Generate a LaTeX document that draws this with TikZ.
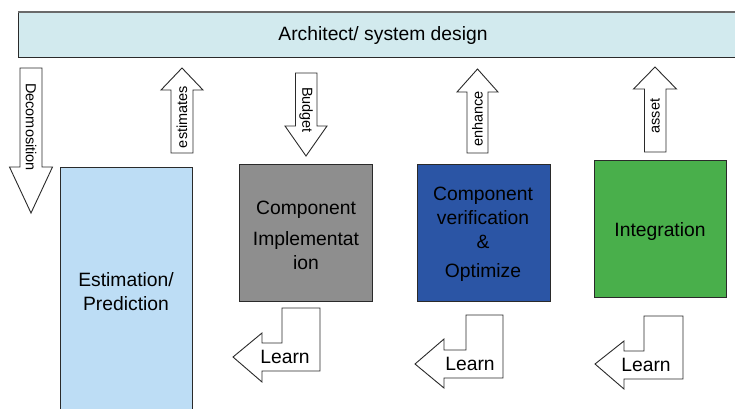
\documentclass[tikz,border=0pt]{standalone}
\usepackage{fontspec}
\setmainfont{Liberation Sans}
\definecolor{barfill}{HTML}{D2EAEE}
\definecolor{estfill}{HTML}{BDDDF5}
\definecolor{impfill}{HTML}{8E8E8E}
\definecolor{verfill}{HTML}{2B55A5}
\definecolor{intfill}{HTML}{49AF4B}
\definecolor{edge}{HTML}{2A2A2A}
\tikzset{
  box/.style={draw=edge, line width=1bp},
  blockarrow/.style={draw=edge, fill=white, line width=0.9bp, line join=miter},
  bigtext/.style={font=\fontsize{19.3bp}{24bp}\selectfont, align=center, inner sep=0pt},
  vlabel/.style={font=\fontsize{14.5bp}{17bp}\selectfont, inner sep=0pt},
}
\begin{document}
\begin{tikzpicture}[x=1bp,y=-1bp]
\useasboundingbox (0,0) rectangle (735,408);
% top bar
\draw[box, fill=barfill] (18,12) rectangle (745,57);
\draw[edge!70, line width=1.5bp] (18,12) -- (745,12);
\node[bigtext] (bar) at (383,36) {Architect/ system design};
% boxes
\draw[box, fill=estfill] (60,167) rectangle (192,420);
\node[bigtext] (est) at (126,292) {Estimation/\\Prediction};
\draw[box, fill=impfill] (239,164) rectangle (372,301);
\node[bigtext] (imp) at (306,235) {Component\\[7bp]Implementat\\ion};
\draw[box, fill=verfill] (417,164) rectangle (550,301);
\node[bigtext] (ver) at (483,234) {Component\\verification\\\&\\[5bp]Optimize};
\draw[box, fill=intfill] (594,160) rectangle (726,297);
\node[bigtext] (int) at (660,232) {Integration};
% down arrow: Decomosition
\draw[blockarrow] (20,68) -- (42,68) -- (42,167) -- (52.5,167) -- (31,213) -- (9.5,167) -- (20,167) -- cycle;
\node[vlabel, rotate=-90] (dec) at (31,127) {Decomosition};
% up arrow: estimates
\draw[blockarrow] (171,153) -- (193,153) -- (193,90) -- (203,90) -- (182,68) -- (161,90) -- (171,90) -- cycle;
\node[vlabel, rotate=90] (esta) at (182,117) {estimates};
% down arrow: Budget
\draw[blockarrow] (295.5,73) -- (317,73) -- (317,126) -- (327,126) -- (306,156) -- (285,126) -- (295.5,126) -- cycle;
\node[vlabel, rotate=-90] (bud) at (306,110) {Budget};
% up arrow: enhance
\draw[blockarrow] (467,153) -- (488,153) -- (488,92) -- (498,92) -- (477.5,69) -- (457,92) -- (467,92) -- cycle;
\node[vlabel, rotate=90] (enh) at (477.5,119) {enhance};
% up arrow: asset
\draw[blockarrow] (644.5,152) -- (666,152) -- (666,89) -- (676.5,89) -- (655,67) -- (633.5,89) -- (644.5,89) -- cycle;
\node[vlabel, rotate=90] (ass) at (655,116) {asset};
% Learn arrows
\draw[blockarrow] (320,308) -- (282,308) -- (282,343) -- (262,343) -- (262,333) -- (233,357) -- (262,382) -- (262,371) -- (320,371) -- cycle;
\node[bigtext] (l1) at (285,357) {Learn};
\draw[blockarrow] (503,315) -- (466,315) -- (466,350) -- (444,350) -- (444,339) -- (415,364) -- (444,388) -- (444,378) -- (503,378) -- cycle;
\node[bigtext] (l2) at (470,364) {Learn};
\draw[blockarrow] (683,316) -- (644,316) -- (644,351) -- (624,351) -- (624,341) -- (595,364) -- (624,389) -- (624,379) -- (683,379) -- cycle;
\node[bigtext] (l3) at (646,365) {Learn};
\end{tikzpicture}
\end{document}
